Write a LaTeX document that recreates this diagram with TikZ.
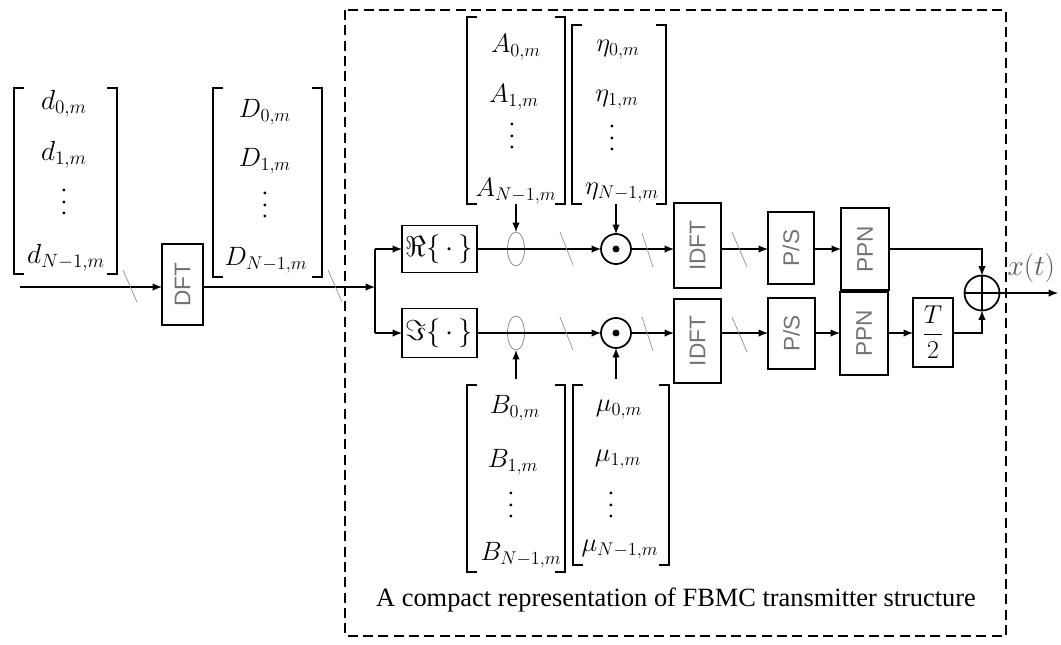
\documentclass[tikz,border=0pt]{standalone}
\usepackage{fontspec}
\usepackage{amsmath}
\setmainfont{Liberation Serif}
\setsansfont{Liberation Sans}
\usetikzlibrary{arrows.meta,shapes.geometric,calc}
\newcommand{\boxtxt}[1]{\rotatebox{90}{\sffamily\fontsize{17}{17}\selectfont\color{black!55}#1}}
\newcommand{\mth}[2]{\scalebox{#1}{$#2$}}
\newcommand{\vdts}{\vbox{\baselineskip=8.7pt\lineskiplimit=0pt\hbox{.}\hbox{.}\hbox{.}}}
\begin{document}
\begin{tikzpicture}[x=0.75pt,y=-0.75pt,
  line width=0.9pt,
  >={Latex[length=7pt,width=5.5pt]},
  blk/.style={draw, inner sep=0pt, outer sep=0pt, line width=0.9pt},
  vec/.style={inner sep=0pt, outer sep=0pt},
  ent/.style={inner sep=0pt, font=\fontsize{17.28}{17.28}\selectfont},
  brk/.style={line width=0.8pt},
  slash/.style={draw=black!45, line width=0.5pt},
  odotn/.style={circle, draw, line width=1.3pt, minimum size=22.5pt, inner sep=0pt, outer sep=0pt},
  elln/.style={ellipse, draw=black!45, line width=0.6pt, minimum width=12.75pt, minimum height=25.5pt, inner sep=0pt, outer sep=0pt},
  frame/.style={line width=1.1pt, dash pattern=on 7.5pt off 4pt}
]
\useasboundingbox (0,0) rectangle (1061,644);

% dashed frame
\draw[frame] (345,10) rectangle (1006,636);
\node[font=\fontsize{19.8}{19.8}\selectfont] (cap) at (676,600) {A compact representation of FBMC transmitter structure};

% vectors
\node[vec, minimum width=77.25pt, minimum height=139.5pt] (dvec) at (65.5,181) {};
\node[ent] (d0) at (64,104) {\mth{1.2}{d_{0,m}}};
\node[ent] (d1) at (64,155) {\mth{1.2}{d_{1,m}}};
\node[ent] (dd) at (64,202) {\vdts};
\node[ent] (dN) at (66,258) {\mth{1.2}{d_{N-1,m}}};

\node[vec, minimum width=81.75pt, minimum height=141.75pt] (Dvec) at (267.5,182.5) {};
\node[ent] (D0) at (265,112) {\mth{1.15}{D_{0,m}}};
\node[ent] (D1) at (265,161) {\mth{1.15}{D_{1,m}}};
\node[ent] (Dd) at (265,205) {\vdts};
\node[ent] (DN) at (266,260) {\mth{1.15}{D_{N-1,m}}};

\node[vec, minimum width=73.5pt, minimum height=140.25pt] (Avec) at (516,110.5) {};
\node[ent] (A0) at (516,47) {\mth{1.15}{A_{0,m}}};
\node[ent] (A1) at (514,97) {\mth{1.15}{A_{1,m}}};
\node[ent] (Ad) at (512,136) {\vdts};
\node[ent] (AN) at (516,191) {\mth{1.15}{A_{N-1,m}}};

\node[vec, minimum width=70.5pt, minimum height=134.25pt] (etavec) at (619,114.5) {};
\node[ent] (e0) at (618,50) {\mth{1.15}{\eta_{0,m}}};
\node[ent] (e1n) at (617,100) {\mth{1.15}{\eta_{1,m}}};
\node[ent] (ed) at (612,138) {\vdts};
\node[ent] (eN) at (622,193) {\mth{1.15}{\eta_{N-1,m}}};

\node[vec, minimum width=73.5pt, minimum height=140.25pt] (Bvec) at (516,478.5) {};
\node[ent] (B0) at (515,408) {\mth{1.15}{B_{0,m}}};
\node[ent] (B1) at (513,462) {\mth{1.15}{B_{1,m}}};
\node[ent] (Bd) at (511,505) {\vdts};
\node[ent] (BN) at (521,555) {\mth{1.15}{B_{N-1,m}}};

\node[vec, minimum width=72pt, minimum height=135pt] (muvec) at (621,475) {};
\node[ent] (m0) at (619,410) {\mth{1.15}{\mu_{0,m}}};
\node[ent] (m1) at (618,460) {\mth{1.15}{\mu_{1,m}}};
\node[ent] (md) at (611,505) {\vdts};
\node[ent] (mN) at (620,550) {\mth{1.15}{\mu_{N-1,m}}};

\foreach \v in {dvec,Dvec,Avec,etavec,Bvec,muvec}{
  \draw[brk] ($(\v.north west)+(10,0)$) -- (\v.north west) -- (\v.south west) -- ($(\v.south west)+(10,0)$);
  \draw[brk] ($(\v.north east)+(-10,0)$) -- (\v.north east) -- (\v.south east) -- ($(\v.south east)+(-10,0)$);
}

% blocks
\node[blk, minimum width=30.75pt, minimum height=60.75pt] (dft) at (182.5,284.5) {\boxtxt{DFT}};
\node[blk, minimum width=56.25pt, minimum height=35.25pt, font=\fontsize{17.28}{17.28}\selectfont] (re) at (439.5,249) {\mth{1.25}{\Re\{\,\cdot\,\}}};
\node[blk, minimum width=56.25pt, minimum height=36.75pt, font=\fontsize{17.28}{17.28}\selectfont] (im) at (439.5,333) {\mth{1.25}{\Im\{\,\cdot\,\}}};
\node[elln] (el1) at (516,249) {};
\node[elln] (el2) at (516,333) {};
\node[odotn] (od1) at (616,249) {};
\node[odotn] (od2) at (616,333) {};
\fill (od1) circle (2.6pt);
\fill (od2) circle (2.6pt);
\node[blk, minimum width=35.25pt, minimum height=63.75pt] (idft1) at (697.5,245.5) {\boxtxt{IDFT}};
\node[blk, minimum width=35.25pt, minimum height=63pt] (idft2) at (697.5,341) {\boxtxt{IDFT}};
\node[blk, minimum width=34.5pt, minimum height=54pt] (ps1) at (791,248) {\boxtxt{P/S}};
\node[blk, minimum width=35.25pt, minimum height=53.25pt] (ps2) at (791.5,333.5) {\boxtxt{P/S}};
\node[blk, minimum width=36pt, minimum height=61.5pt] (ppn1) at (865,249) {\boxtxt{PPN}};
\node[blk, minimum width=36pt, minimum height=62.25pt] (ppn2) at (864,333.5) {\boxtxt{PPN}};
\node[blk, minimum width=30pt, minimum height=51.75pt, font=\fontsize{17.28}{17.28}\selectfont] (t2) at (933,332.5) {\mth{1.12}{\dfrac{T}{2}}};
\node[circle, draw, line width=1.3pt, minimum size=26.25pt, inner sep=0pt, outer sep=0pt] (op) at (982,293) {};
\draw[line width=1.3pt] (op.north) -- (op.south) (op.west) -- (op.east);
\node[text=black!65, font=\fontsize{17.28}{17.28}\selectfont, inner sep=0pt, anchor=west] (xt) at (1007,268) {\mth{1.27}{x(t)}};

% connectors
\coordinate (in) at (20,287);
\coordinate (jn) at (375,287);
\coordinate (ju) at (375,249);
\coordinate (jl) at (375,333);
\coordinate (out) at (1058,293);
\draw[->] (in) -- (in -| dft.west);
\draw[->] (dft.east |- jn) -- (jn);
\draw (ju) -- (jl);
\draw[->] (ju) -- (re.west);
\draw[->] (jl) -- (im.west);
\draw[->] (re.east) -- (od1.west);
\draw[->] (im.east) -- (od2.west);
\draw[->] (od1.east) -- (od1 -| idft1.west);
\draw[->] (od2.east) -- (od2 -| idft2.west);
\draw[->] (od1 -| idft1.east) -- (od1 -| ps1.west);
\draw[->] (od2 -| idft2.east) -- (od2 -| ps2.west);
\draw[->] (od1 -| ps1.east) -- (od1 -| ppn1.west);
\draw[->] (od2 -| ps2.east) -- (od2 -| ppn2.west);
\draw[->] (od2 -| ppn2.east) -- (od2 -| t2.west);
\draw[->] (od1 -| ppn1.east) -| (op.north);
\draw[->] (od2 -| t2.east) -| (op.south);
\draw[->] (op.east) -- (out);
\draw[->] (Avec.south) -- (el1.north);
\draw[->] (etavec.south -| od1) -- (od1.north);
\draw[->] ($(Bvec.north -| el2)+(0,-6)$) -- (el2.south);
\draw[->] ($(muvec.north -| od2)+(0,-6)$) -- (od2.south);

% bus slashes
\draw[slash] (123,270) -- (137,302);
\draw[slash] (328,270) -- (342,302);
\draw[slash] (560,232) -- (573,265);
\draw[slash] (560,317) -- (573,350);
\draw[slash] (642,233) -- (653,267);
\draw[slash] (642,317) -- (653,351);
\draw[slash] (732,232) -- (747,267);
\draw[slash] (732,317) -- (747,352);
\end{tikzpicture}
\end{document}
